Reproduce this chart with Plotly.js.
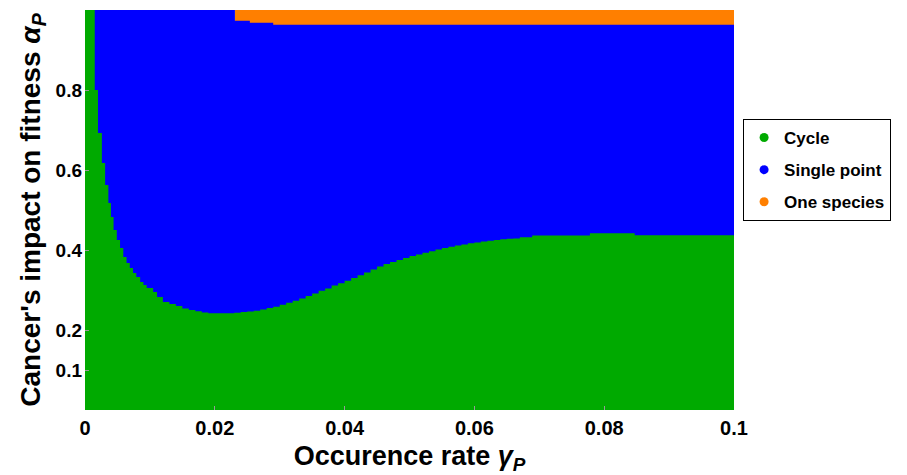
<!DOCTYPE html>
<html>
<head>
<meta charset="utf-8">
<script src="https://cdn.plot.ly/plotly-3.0.1.min.js"></script>
<style>html,body{margin:0;padding:0;background:#fff;}</style>
</head>
<body>
<div id="chart" style="width:907px;height:475px;"></div>
<script>
// Boundary between "Cycle" (below) and "Single point" (above)
const cycleGamma = [0.0000,0.0015,0.0020,0.0026,0.0031,0.0036,0.0040,0.0044,0.0049,0.0054,0.0059,0.0064,0.0069,0.0074,0.0079,0.0085,0.0090,0.0095,0.0105,0.0111,
  0.0120,0.0130,0.0140,0.0150,0.0160,0.0170,0.0180,0.0190,0.0200,0.0210,0.0220,0.0230,0.0240,0.0250,0.0260,0.0270,0.0280,0.0290,
  0.0300,0.0310,0.0320,0.0330,0.0340,0.0350,0.0360,0.0370,0.0380,0.0390,0.0400,0.0410,0.0420,0.0430,0.0440,0.0450,0.0460,0.0470,
  0.0480,0.0490,0.0500,0.0510,0.0520,0.0530,0.0540,0.0550,0.0560,0.0570,0.0580,0.0590,0.0600,0.0610,0.0620,0.0630,0.0640,0.0650,
  0.0660,0.0670,0.0689,0.0778,0.0847,0.1000];
const cycleAlpha = [1.000,0.800,0.6925,0.6175,0.5625,0.5175,0.4825,0.450,0.425,0.405,0.3825,0.3675,0.355,0.3425,0.3325,0.320,0.3125,0.305,0.295,0.2825,
  0.270,0.265,0.260,0.254,0.250,0.247,0.244,0.242,0.242,0.242,0.242,0.243,0.245,0.246,0.248,0.251,0.255,0.258,
  0.263,0.268,0.273,0.279,0.285,0.291,0.298,0.304,0.311,0.317,0.323,0.330,0.337,0.344,0.351,0.359,0.365,0.370,
  0.375,0.380,0.385,0.389,0.393,0.397,0.401,0.405,0.408,0.411,0.414,0.417,0.419,0.421,0.423,0.425,0.427,0.428,
  0.429,0.432,0.436,0.442,0.437,0.437];

// Boundary between "Single point" (below) and "One species" (above)
const oneSpeciesGamma = [0.0231, 0.0254, 0.0290, 0.1000];
const oneSpeciesLower = [0.973, 0.968, 0.963, 0.963];

const gammaMin = 0;
const alphaMax = 1.0;

const xTickVals = [0, 0.02, 0.04, 0.06, 0.08, 0.1];
const xTickText = ['0', '0.02', '0.04', '0.06', '0.08', '0.1'];
const yTickVals = [0.1, 0.2, 0.4, 0.6, 0.8];
const yTickText = ['0.1', '0.2', '0.4', '0.6', '0.8'];

const seriesNames = ['Cycle', 'Single point', 'One species'];
const seriesColors = ['#00aa00', '#0000ff', '#ff7f00'];

const fillBase = {type: 'scatter', mode: 'lines', fill: 'tozeroy', line: {width: 0, shape: 'hv'}, hoverinfo: 'skip', showlegend: false};

const traces = [
  Object.assign({}, fillBase, {x: oneSpeciesGamma, y: oneSpeciesGamma.map(() => alphaMax), fillcolor: seriesColors[2]}),
  Object.assign({}, fillBase, {x: [gammaMin].concat(oneSpeciesGamma), y: [alphaMax].concat(oneSpeciesLower), fillcolor: seriesColors[1]}),
  Object.assign({}, fillBase, {x: cycleGamma, y: cycleAlpha, fillcolor: seriesColors[0]})
];
seriesNames.forEach((n, i) => {
  traces.push({type: 'scatter', mode: 'markers', x: [null], y: [null], name: n, legendgroup: 'g' + i,
    marker: {color: seriesColors[i], size: 9, symbol: 'circle'}, hoverinfo: 'skip'});
});

const fontFam = 'Liberation Sans, Arial, sans-serif';
const layout = {
  width: 907, height: 475,
  margin: {l: 85, r: 173, t: 10, b: 65},
  paper_bgcolor: '#ffffff', plot_bgcolor: '#ffffff',
  font: {family: fontFam, color: '#000', weight: 'bold'},
  xaxis: {
    range: [0, 0.1], tickvals: xTickVals, ticktext: xTickText,
    ticks: 'inside', ticklen: 4, tickcolor: '#999', showgrid: false, zeroline: false, showline: false,
    tickfont: {size: 20, family: fontFam, weight: 'bold'}, ticklabelstandoff: 4,
    title: {text: 'Occurence rate <i>γ</i><sub><i>P</i></sub>', font: {size: 27, family: fontFam, weight: 'bold'}, standoff: 11},
    automargin: false
  },
  yaxis: {
    range: [0, 1], tickvals: yTickVals, ticktext: yTickText,
    ticks: 'inside', ticklen: 4, tickcolor: '#999', showgrid: false, zeroline: false, showline: false,
    tickfont: {size: 19, family: fontFam, weight: 'bold'}, ticklabelstandoff: 2,
    title: {text: "Cancer's impact on fitness <i>α</i><sub><i>P</i></sub>", font: {size: 28, family: fontFam, weight: 'bold'}, standoff: 6},
    automargin: false
  },
  legend: {
    x: 1.014, y: 0.7275, xanchor: 'left', yanchor: 'top',
    bgcolor: '#ffffff', bordercolor: '#000000', borderwidth: 1,
    font: {size: 17, family: fontFam, weight: 'bold'},
    traceorder: 'grouped', tracegroupgap: 7, itemwidth: 30
  },
  showlegend: true
};

Plotly.newPlot('chart', traces, layout, {displayModeBar: false, staticPlot: true});
</script>
</body>
</html>
